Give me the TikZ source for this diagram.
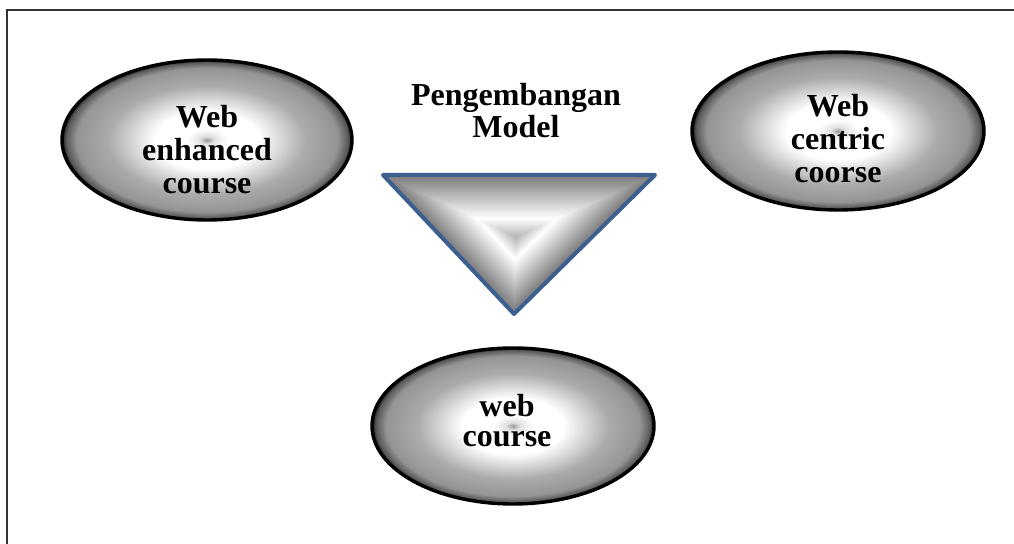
\documentclass[tikz,border=0pt]{standalone}
\usepackage{fontspec}
\setmainfont{Liberation Serif}
\usetikzlibrary{shapes.geometric,calc}
\pgfdeclareradialshading{ballg}{\pgfpoint{0bp}{0bp}}{%
  color(0bp)=(black!40);
  color(1.2bp)=(black!12);
  color(3.5bp)=(white);
  color(9bp)=(white);
  color(17bp)=(black!33);
  color(22.5bp)=(black!42);
  color(24.3bp)=(black!65);
  color(25bp)=(black!90);
  color(50bp)=(black)}
\definecolor{triblue}{HTML}{3B5F8E}
\tikzset{
  oval/.style={ellipse, draw=black, line width=1.7pt, shading=ballg, inner sep=0pt,
    align=center, font=\bfseries\fontsize{16}{16.5}\selectfont},
  frameline/.style={draw=black!80, line width=0.75pt},
  title/.style={align=center, font=\bfseries\fontsize{16}{16}\selectfont},
}
\begin{document}
\begin{tikzpicture}[x=0.5pt,y=-0.5pt]
\useasboundingbox (0,0) rectangle (1014,544);
% frame (top and left visible)
\coordinate (f0) at (7,10);
\coordinate (f1) at (1014,10);
\coordinate (f2) at (7,544);
\draw[frameline] (f1) -- (f0) -- (f2);
% ellipses
\node[oval, minimum width=145pt, minimum height=80pt] (enh) at (207,140) {};
\node[oval, minimum width=146pt, minimum height=79pt] (cen) at (838,131) {};
\node[oval, minimum width=141pt, minimum height=78pt] (web) at (513,426) {};
\node[title, font=\bfseries\fontsize{16}{16.5}\selectfont] (enht) at (207,150) {Web\\enhanced\\course};
\node[title, font=\bfseries\fontsize{16}{16.5}\selectfont] (cent) at (838,139) {Web\\centric\\coorse};
\node[title, font=\bfseries\fontsize{16}{15}\selectfont] (webt) at (507,421) {web\\course};
% triangle
\coordinate (A) at (383,175);
\coordinate (B) at (655,175);
\coordinate (C) at (514,314);
\coordinate (M) at (516,237);
\foreach \i in {0,...,59}{
  \pgfmathsetmacro{\s}{1-\i/60}
  \pgfmathsetmacro{\p}{\s>0.3 ? 52*(\s-0.3)/0.7 : 30*(0.3-\s)/0.3}
  \fill[black!\p] ($(M)!\s!(A)$) -- ($(M)!\s!(B)$) -- ($(M)!\s!(C)$) -- cycle;
}
\draw[triblue, line width=2pt, line join=round, line cap=round] (A) -- (B) -- (C) -- cycle;
\node[title] (pm) at (516,111) {Pengembangan\\Model};
\end{tikzpicture}
\end{document}
